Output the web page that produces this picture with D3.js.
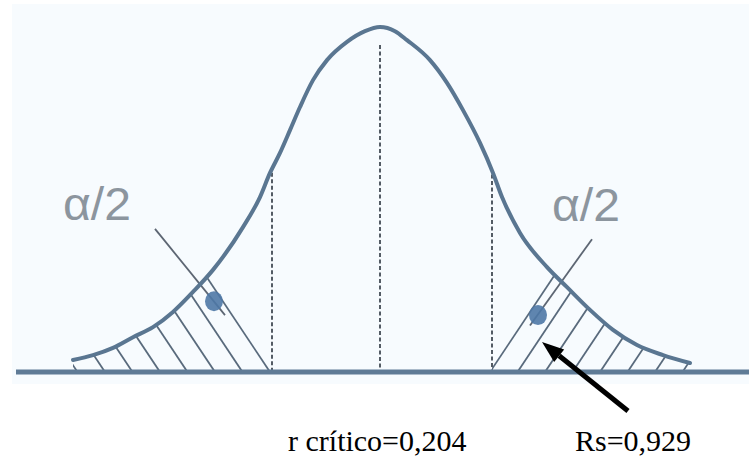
<!DOCTYPE html>
<html><head><meta charset="utf-8">
<script src="https://cdn.jsdelivr.net/npm/d3@7"></script>
<style>html,body{margin:0;padding:0;background:#fff;}svg{display:block;}</style>
</head><body>
<svg id="c" width="749" height="459"></svg>
<script>
// Density curve points (z units, relative height)
const curveZ = [-3.07,-2.87,-2.67,-2.47,-2.27,-2.07,-1.87,-1.67,-1.37,-1.20,-1.10,-1.00,-0.90,-0.80,-0.67,-0.53,-0.33,-0.15,0,
                 0.15,0.27,0.50,0.67,0.83,1.00,1.13,1.22,1.40,1.67,1.87,2.10,2.33,2.57,2.83,3.10];
const curveY = [0.035,0.049,0.070,0.101,0.130,0.174,0.232,0.296,0.420,0.507,0.577,0.635,0.701,0.768,0.846,0.904,0.957,0.988,1.0,
                 0.988,0.962,0.904,0.838,0.759,0.664,0.577,0.507,0.403,0.304,0.246,0.180,0.122,0.078,0.049,0.026];
const criticalZ = [-1.08, 1.12];
const centerZ = 0;
const centerTop = 0.948;
const alphaLabels = ["α/2", "α/2"];
const bottomLabels = ["r crítico=0,204", "Rs=0,929"];

const W = 749, H = 459;
const svg = d3.select("#c");
const x = d3.scaleLinear().domain([-3.8, 3.69]).range([0, W]);
const y = d3.scaleLinear().domain([0, 1]).range([372, 27]);

const pts = curveZ.map((z, i) => [z, curveY[i]]);
const line = d3.line().x(d => x(d[0])).y(d => y(d[1])).curve(d3.curveMonotoneX);
const area = d3.area().x(d => x(d[0])).y0(y(0)).y1(d => y(d[1])).curve(d3.curveMonotoneX);

// faint background of the scanned figure
svg.append("rect").attr("x", 12).attr("y", 4).attr("width", W - 12).attr("height", 380).attr("fill", "#f7fbfe");

const pathNode = svg.append("path").attr("d", line(pts)).attr("fill", "none").attr("stroke", "none").node();
function curveYAt(px) {
  const L = pathNode.getTotalLength();
  let lo = 0, hi = L;
  for (let i = 0; i < 40; i++) {
    const mid = (lo + hi) / 2;
    if (pathNode.getPointAtLength(mid).x < px) lo = mid; else hi = mid;
  }
  return pathNode.getPointAtLength(lo).y;
}

const defs = svg.append("defs");
const lx = x(criticalZ[0]), rx = x(criticalZ[1]);
defs.append("clipPath").attr("id", "clipL").append("path").attr("d", area(pts));
defs.append("clipPath").attr("id", "clipLx").append("rect")
  .attr("x", 0).attr("y", 0).attr("width", lx).attr("height", y(0));
defs.append("clipPath").attr("id", "clipRx").append("rect")
  .attr("x", rx).attr("y", 0).attr("width", W - rx).attr("height", y(0));

const hatchColor = "#596a7c";
const slope = 1.5, step = 27.5;
function hatch(clipX, x0, dir, count) {
  const g = svg.append("g").attr("clip-path", "url(#" + clipX + ")")
    .append("g").attr("clip-path", "url(#clipL)");
  for (let k = 0; k < count; k++) {
    const bx = x0 + dir * k * step;
    const len = 400;
    g.append("line")
      .attr("x1", bx).attr("y1", y(0))
      .attr("x2", bx + dir * len / slope).attr("y2", y(0) - len)
      .attr("stroke", hatchColor).attr("stroke-width", 1.8);
  }
}
hatch("clipLx", lx - 2, -1, 9);
hatch("clipRx", rx - 2, 1, 9);

// dashed verticals
const dashColor = "#535b64";
svg.append("line").attr("x1", x(centerZ)).attr("x2", x(centerZ))
  .attr("y1", y(centerTop)).attr("y2", y(0))
  .attr("stroke", dashColor).attr("stroke-width", 2).attr("stroke-dasharray", "4,2.5");
criticalZ.forEach(z => {
  const px = x(z);
  svg.append("line").attr("x1", px).attr("x2", px)
    .attr("y1", curveYAt(px) + 4).attr("y2", y(0))
    .attr("stroke", dashColor).attr("stroke-width", 2).attr("stroke-dasharray", "4,2.5");
});

// pointer lines and blobs
const pointers = [
  {from: [-2.25, 0.415], to: [-1.55, 0.165], blob: [-1.66, 0.205]},
  {from: [2.12, 0.385], to: [1.50, 0.135], blob: [1.58, 0.165]}
];
pointers.forEach(p => {
  svg.append("line").attr("x1", x(p.from[0])).attr("y1", y(p.from[1]))
    .attr("x2", x(p.to[0])).attr("y2", y(p.to[1]))
    .attr("stroke", "#5d6673").attr("stroke-width", 1.8);
  svg.append("ellipse").attr("cx", x(p.blob[0])).attr("cy", y(p.blob[1]))
    .attr("rx", 9).attr("ry", 10).attr("fill", "#4e78a6").attr("opacity", 0.9);
});

// curve
svg.append("path").attr("d", line(pts)).attr("fill", "none")
  .attr("stroke", "#5a7691").attr("stroke-width", 4).attr("stroke-linecap", "round");

// baseline
svg.append("line").attr("x1", x(-3.64)).attr("x2", W).attr("y1", y(0)).attr("y2", y(0))
  .attr("stroke", "#5f7b96").attr("stroke-width", 5);

// alpha/2 labels
const alphaPos = [[-3.17, 0.442], [1.72, 0.437]];
alphaLabels.forEach((t, i) => {
  svg.append("text").attr("x", x(alphaPos[i][0])).attr("y", y(alphaPos[i][1]))
    .attr("font-family", "Liberation Sans, Arial, sans-serif").attr("font-size", 46)
    .attr("fill", "#8c959e").attr("textLength", 68).attr("lengthAdjust", "spacingAndGlyphs")
    .text(t);
});

// arrow
const arrowFrom = [628, 411], arrowTip = [542, 342];
const ang = Math.atan2(arrowTip[1] - arrowFrom[1], arrowTip[0] - arrowFrom[0]);
const hl = 22, hw = 8;
const base = [arrowTip[0] - hl * Math.cos(ang), arrowTip[1] - hl * Math.sin(ang)];
svg.append("line").attr("x1", arrowFrom[0]).attr("y1", arrowFrom[1])
  .attr("x2", base[0]).attr("y2", base[1]).attr("stroke", "#000").attr("stroke-width", 5);
svg.append("path").attr("d", d3.line()([
  arrowTip,
  [base[0] + hw * Math.sin(ang), base[1] - hw * Math.cos(ang)],
  [base[0] - hw * Math.sin(ang), base[1] + hw * Math.cos(ang)]
]) + "Z").attr("fill", "#000");

// bottom labels
const bottomX = [288, 575];
bottomLabels.forEach((t, i) => {
  svg.append("text").attr("x", bottomX[i]).attr("y", 451)
    .attr("font-family", "Liberation Serif, Times New Roman, serif").attr("font-size", 30)
    .attr("fill", "#000").text(t);
});
</script>
</body></html>
